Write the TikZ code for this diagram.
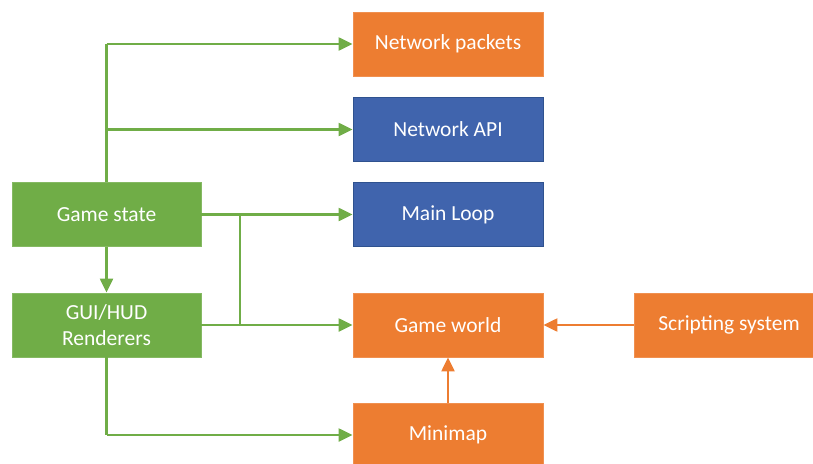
\documentclass[tikz,border=0pt]{standalone}
\usepackage{fontspec}
\setmainfont{Carlito}
\usetikzlibrary{arrows.meta}
\definecolor{orangebox}{HTML}{ED7D31}
\definecolor{bluebox}{HTML}{4064AD}
\definecolor{blueedge}{HTML}{2F528F}
\definecolor{greenbox}{HTML}{70AD47}
\tikzset{
  x=1pt, y=-1pt,
  box/.style={rectangle, minimum width=190pt, minimum height=64pt, inner sep=2pt,
    text=white, align=center, font=\fontsize{21.5}{26.5}\selectfont, line width=0.8pt},
  orangenode/.style={box, fill=orangebox, draw=orangebox!85!white},
  bluenode/.style={box, fill=bluebox, draw=blueedge},
  greennode/.style={box, fill=greenbox, draw=greenbox!85!white},
  garrow/.style={draw=greenbox, line width=2.2pt, -{Triangle[length=14pt,width=13pt]}},
  gline/.style={draw=greenbox, line width=2.2pt},
  oarrow/.style={draw=orangebox, line width=2.2pt, -{Triangle[length=14pt,width=13pt]}},
}
\begin{document}
\begin{tikzpicture}
\useasboundingbox (0,0) rectangle (813,463);
\clip (0,0) rectangle (813,463);
% boxes
\node[orangenode] (packets) at (448,44) {Network packets};
\node[bluenode] (api) at (448,129.5) {Network API};
\node[bluenode] (loop) at (448,214.5) {Main Loop};
\node[greennode, minimum width=189pt] (state) at (106.5,214.5) {Game state};
\node[greennode, minimum width=189pt] (gui) at (106.5,325) {GUI/HUD\\Renderers};
\node[orangenode] (world) at (448,325) {Game world};
\node[orangenode] (script) at (729,325) {Scripting system};
\node[orangenode] (minimap) at (448,435) {Minimap};
% junction points
\coordinate (top) at (state.north |- packets.west);
\coordinate (mid) at (state.north |- api.west);
\coordinate (split) at (240,214.5);
\coordinate (join) at (split |- world.west);
\coordinate (low) at (gui.south |- minimap.west);
% green connectors
\draw[gline] (state.north) -- (top);
\draw[garrow] (top) -- (packets.west);
\draw[garrow] (mid) -- (api.west);
\draw[garrow] (state.east) -- (loop.west);
\draw[gline] (split) -- (join);
\draw[garrow] (gui.east) -- (world.west);
\draw[garrow] (state.south) -- (gui.north);
\draw[gline] (gui.south) -- (low);
\draw[garrow] (low) -- (minimap.west);
% orange connectors
\draw[oarrow] (script.west) -- (world.east);
\draw[oarrow] (minimap.north) -- (world.south);
\end{tikzpicture}
\end{document}
